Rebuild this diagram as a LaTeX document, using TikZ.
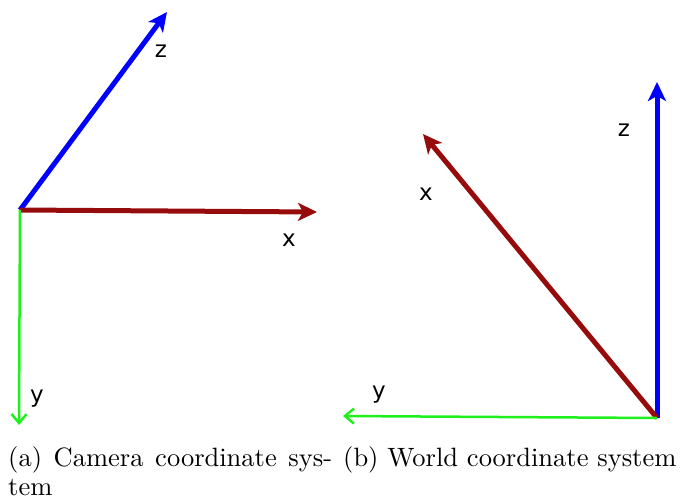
\documentclass[tikz,border=0pt]{standalone}
\usepackage{fontspec}
\newfontfamily\labfont{DejaVu Sans}
\newfontfamily\capfont{Latin Modern Roman}[OpticalSize=10]
\usetikzlibrary{arrows.meta}
\definecolor{axred}{RGB}{150,12,12}
\definecolor{axblue}{RGB}{0,0,255}
\definecolor{axgreen}{RGB}{30,240,30}
\begin{document}
\begin{tikzpicture}[x=1pt,y=-1pt,
  thick axis/.style={line width=5pt,-{Stealth[length=19pt,width=18pt,inset=5pt]}},
  thin axis/.style={line width=2.5pt,-{Straight Barb[length=9pt,width=15pt]}},
  lab/.style={font=\labfont\fontsize{23}{27}\selectfont,inner sep=0pt},
  captext/.style={font=\capfont\fontsize{26.5}{28.5}\selectfont,inner sep=0pt,align=left}]
\useasboundingbox (0,0) rectangle (680,501);
% left: camera
\coordinate (oa) at (20,210);
\coordinate (za) at (167,12);
\coordinate (xa) at (317,212);
\coordinate (ya) at (19,425);
\draw[thick axis,axblue] (oa) -- (za);
\draw[thick axis,axred] (oa) -- (xa);
\draw[thin axis,axgreen] (oa) -- (ya);
\node[lab] (lza) at (161,51) {z};
\node[lab] (lxa) at (289,240) {x};
\node[lab] (lya) at (37,399) {y};
% right: world
\coordinate (ob) at (657,418);
\coordinate (zb) at (657,82);
\coordinate (xb) at (423,134);
\coordinate (yb) at (343,416);
\draw[thick axis,axblue] (ob) -- (zb);
\draw[thick axis,axred] (ob) -- (xb);
\draw[thin axis,axgreen] (ob) -- (yb);
\node[lab] (lzb) at (624,130) {z};
\node[lab] (lxb) at (426,194) {x};
\node[lab] (lyb) at (379,395) {y};
% captions
\node[captext,anchor=base west] (capa) at (8,495) {\makebox[324pt][s]{(a) Camera coordinate sys-}\\tem};
\node[captext,anchor=base west] (capb) at (343,466.5) {(b) World coordinate system};
\end{tikzpicture}
\end{document}
